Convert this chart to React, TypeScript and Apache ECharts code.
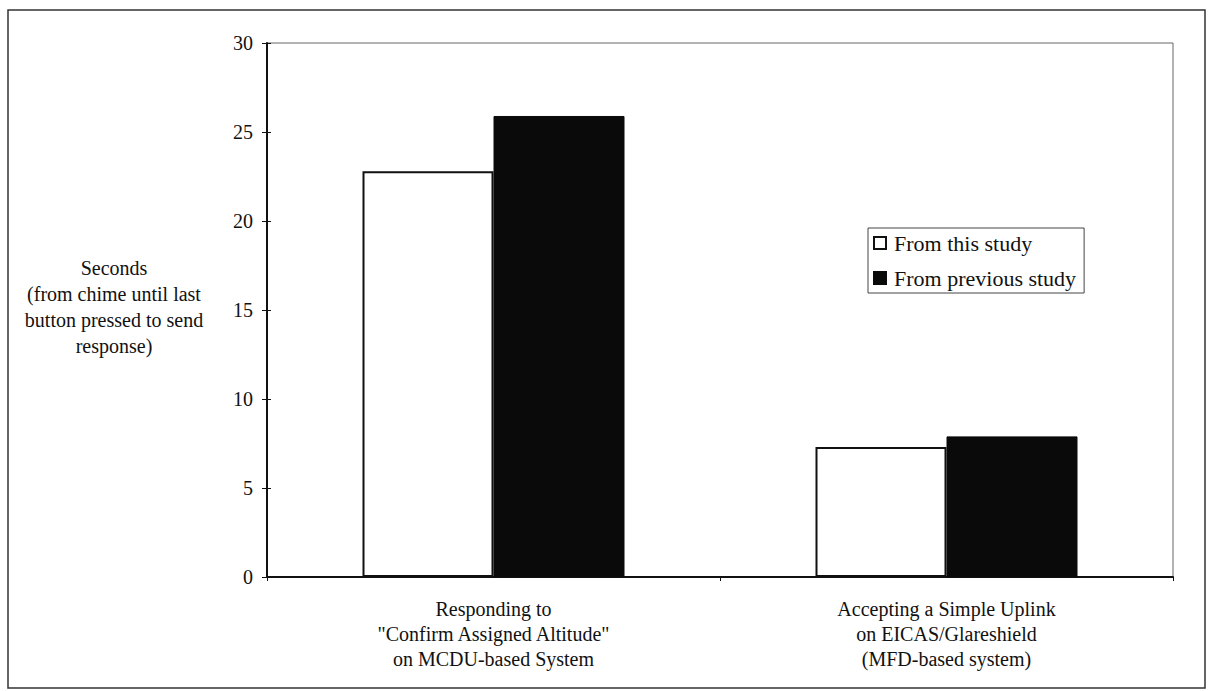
import React, { useEffect, useRef } from "react";
import * as echarts from "echarts";

const categories = [
  'Responding to\n"Confirm Assigned Altitude"\non MCDU-based System',
  "Accepting a Simple Uplink\non EICAS/Glareshield\n(MFD-based system)",
];
const seriesNames = ["From this study", "From previous study"];
const thisStudy = [22.8, 7.3];
const previousStudy = [25.9, 7.9];
const yTitle = "Seconds\n(from chime until last\nbutton pressed to send\nresponse)";

const FONT = "Liberation Serif, serif";

export default function App() {
  const ref = useRef<HTMLDivElement>(null);
  useEffect(() => {
    if (!ref.current) return;
    const chart = echarts.init(ref.current, undefined, { renderer: "svg" });
    const yBase = {
      type: "value",
      min: 0,
      max: 30,
      interval: 5,
      splitLine: { show: false },
    };
    chart.setOption({
      animation: false,
      backgroundColor: "#fff",
      textStyle: { fontFamily: FONT, color: "#111" },
      grid: {
        left: 267,
        right: 37,
        top: 43,
        bottom: 114,
        show: true,
        borderColor: "#666",
        borderWidth: 1,
        containLabel: false,
      },
      legend: {
        data: seriesNames,
        orient: "vertical",
        left: 868,
        top: 228,
        padding: [3, 8, 3, 5],
        borderColor: "#444",
        borderWidth: 1,
        itemWidth: 12,
        itemHeight: 12,
        itemGap: 11,
        icon: "rect",
        textStyle: {
          fontFamily: FONT,
          fontSize: 22,
          lineHeight: 24,
          color: "#111",
          padding: [0, 0, 0, 3],
        },
      },
      xAxis: {
        type: "category",
        data: categories,
        axisLine: { show: true, lineStyle: { color: "#111", width: 2 } },
        axisTick: { show: true, length: 4, alignWithLabel: false, lineStyle: { color: "#111" } },
        axisLabel: {
          interval: 0,
          margin: 19,
          fontFamily: FONT,
          fontSize: 20,
          lineHeight: 25,
          color: "#111",
          align: "center",
        },
        splitLine: { show: false },
      },
      yAxis: [
        {
          ...yBase,
          axisLine: { show: true, lineStyle: { color: "#111", width: 2 } },
          axisTick: { show: true, length: 5, lineStyle: { color: "#111" } },
          axisLabel: { margin: 14, fontFamily: FONT, fontSize: 20, color: "#111" },
        },
        {
          ...yBase,
          position: "left",
          axisLine: { show: false },
          axisTick: { show: true, inside: true, length: 4, lineStyle: { color: "#111" } },
          axisLabel: { show: false },
        },
      ],
      series: [
        {
          name: seriesNames[0],
          type: "bar",
          data: thisStudy,
          barWidth: 131,
          barGap: "0%",
          itemStyle: { color: "#fff", borderColor: "#111", borderWidth: 2 },
        },
        {
          name: seriesNames[1],
          type: "bar",
          data: previousStudy,
          barWidth: 131,
          barGap: "0%",
          itemStyle: { color: "#0a0a0a", borderColor: "#0a0a0a", borderWidth: 1 },
        },
      ],
      graphic: [
        {
          type: "rect",
          shape: { x: 8, y: 10, width: 1197, height: 678 },
          style: { fill: "none", stroke: "#333", lineWidth: 1.5 },
          silent: true,
          z: -1,
        },
        {
          type: "text",
          x: 114,
          y: 307,
          style: {
            text: yTitle,
            fontFamily: FONT,
            fontSize: 20,
            lineHeight: 26,
            fill: "#111",
            align: "center",
            verticalAlign: "middle",
          },
        },
      ],
    });
    return () => chart.dispose();
  }, []);
  return (
    <div
      ref={ref}
      style={{ position: "fixed", left: 0, top: 0, width: 1210, height: 691, background: "#fff" }}
    />
  );
}
